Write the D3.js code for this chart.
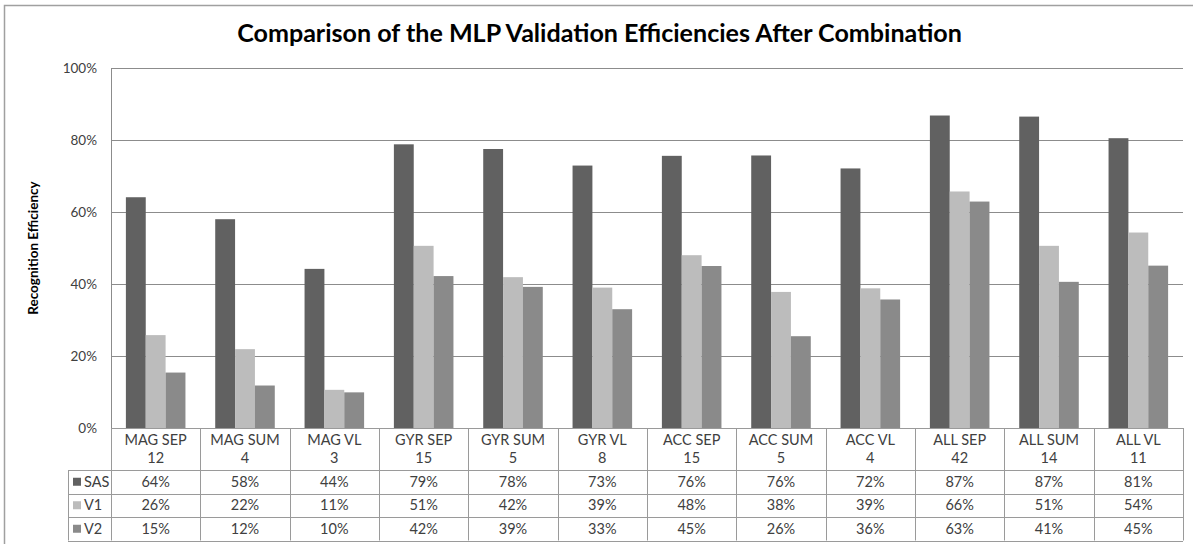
<!DOCTYPE html>
<html><head><meta charset="utf-8">
<script src="https://cdn.jsdelivr.net/npm/d3@7"></script>
<style>html,body{margin:0;padding:0;background:#fff;}svg{display:block;}</style>
</head><body>
<svg id="chart" width="1193" height="544"></svg>
<script>
const title = "Comparison of the MLP Validation Efficiencies After Combination";
const yTitle = "Recognition Efficiency";
const categories = ["MAG SEP","MAG SUM","MAG VL","GYR SEP","GYR SUM","GYR VL","ACC SEP","ACC SUM","ACC VL","ALL SEP","ALL SUM","ALL VL"];
const counts = ["12","4","3","15","5","8","15","5","4","42","14","11"];
const seriesNames = ["SAS","V1","V2"];
const sas = [64.1,58.0,44.2,78.8,77.5,72.9,75.6,75.7,72.1,86.8,86.5,80.5];
const v1  = [25.8,21.9,10.6,50.6,41.9,39.0,48.0,37.8,38.8,65.7,50.6,54.3];
const v2  = [15.4,11.8,9.9,42.2,39.2,33.0,45.0,25.5,35.7,62.9,40.6,45.1];
const yTicks = [0,20,40,60,80,100];
const seriesValues = [sas, v1, v2];
const colors = ["#616161","#bcbcbc","#8a8a8a"];

(function(){
const svg = d3.select("#chart");
const font = "Lato, 'Open Sans', sans-serif";
const pLeft = 111, pRight = 1183, pTop = 68, pBottom = 428;
const tableLeft = 68;
const rowBounds = [428, 470, 493.5, 517, 540.5];
const fs = 14.5;

svg.append("rect").attr("x",4.5).attr("y",5.5).attr("width",1200).attr("height",600)
  .attr("fill","none").attr("stroke","#a0a0a0").attr("stroke-width",1.5);

const t = svg.append("text").attr("x",(237+962)/2).attr("y",42).attr("text-anchor","middle")
  .attr("font-family",font).attr("font-weight","bold").attr("font-size",22).attr("fill","#000").text(title);
let w = t.node().getComputedTextLength();
t.attr("font-size", 22*725/w);

const x0 = d3.scaleBand().domain(categories).range([pLeft,pRight]).paddingInner(0).paddingOuter(0);
const bw = x0.bandwidth()/4.5;
const x1 = d3.scaleBand().domain(seriesNames).range([0.75*bw, 3.75*bw]);
const y = d3.scaleLinear().domain([0,100]).range([pBottom,pTop]);

svg.append("g").selectAll("line").data(yTicks.filter(d=>d>0)).join("line")
  .attr("x1",pLeft).attr("x2",pRight).attr("y1",d=>Math.round(y(d))+0.5).attr("y2",d=>Math.round(y(d))+0.5)
  .attr("stroke","#8c8c8c").attr("stroke-width",1);
svg.append("line").attr("x1",pLeft+0.5).attr("x2",pLeft+0.5).attr("y1",pTop).attr("y2",pBottom)
  .attr("stroke","#8c8c8c");

const yAxis = d3.axisLeft(y).tickValues(yTicks).tickFormat(d=>d+"%").tickSize(0).tickPadding(14);
const ga = svg.append("g").attr("transform",`translate(${pLeft},0)`).call(yAxis);
ga.select(".domain").remove();
ga.selectAll("text").attr("font-family",font).attr("font-size",13.5).attr("fill","#404040");

svg.append("text").attr("transform",`translate(38,${(pTop+pBottom)/2}) rotate(-90)`)
  .attr("text-anchor","middle").attr("font-family",font).attr("font-weight","bold")
  .attr("font-size",13.5).attr("fill","#000").text(yTitle);

seriesNames.forEach((s,si)=>{
  svg.append("g").selectAll("rect").data(seriesValues[si]).join("rect")
    .attr("x",(d,i)=>x0(categories[i])+x1(s))
    .attr("width",x1.bandwidth())
    .attr("y",d=>y(d)).attr("height",d=>pBottom-y(d))
    .attr("fill",colors[si]);
});

const tg = svg.append("g");
const lineColor = "#9a9a9a";
tg.append("line").attr("x1",pLeft).attr("x2",pRight).attr("y1",rowBounds[0]+0.5).attr("y2",rowBounds[0]+0.5).attr("stroke",lineColor);
rowBounds.slice(1).forEach(yb=>{
  tg.append("line").attr("x1",tableLeft).attr("x2",pRight).attr("y1",Math.round(yb)+0.5).attr("y2",Math.round(yb)+0.5).attr("stroke",lineColor);
});
tg.append("line").attr("x1",tableLeft+0.5).attr("x2",tableLeft+0.5).attr("y1",rowBounds[1]).attr("y2",rowBounds[4]).attr("stroke",lineColor);
categories.concat(["__end"]).forEach((c,i)=>{
  const xv = c==="__end" ? pRight : x0(c);
  tg.append("line").attr("x1",Math.round(xv)+0.5).attr("x2",Math.round(xv)+0.5).attr("y1",rowBounds[0]).attr("y2",rowBounds[4]).attr("stroke",lineColor);
});
categories.forEach((c,i)=>{
  const cx = x0(c)+x0.bandwidth()/2;
  tg.append("text").attr("x",cx).attr("y",445).attr("text-anchor","middle")
    .attr("font-family",font).attr("font-size",fs).attr("fill","#404040").text(c);
  tg.append("text").attr("x",cx).attr("y",463).attr("text-anchor","middle")
    .attr("font-family",font).attr("font-size",fs).attr("fill","#404040").text(counts[i]);
});
seriesNames.forEach((s,si)=>{
  const yc = (rowBounds[si+1]+rowBounds[si+2])/2;
  tg.append("rect").attr("x",73).attr("y",yc-4).attr("width",8).attr("height",8).attr("fill",colors[si]);
  tg.append("text").attr("x",84).attr("y",yc+5).attr("font-family",font).attr("font-size",fs)
    .attr("fill","#404040").text(s);
  seriesValues[si].forEach((v,i)=>{
    tg.append("text").attr("x",x0(categories[i])+x0.bandwidth()/2).attr("y",yc+5)
      .attr("text-anchor","middle").attr("font-family",font).attr("font-size",fs)
      .attr("fill","#404040").text(Math.round(v)+"%");
  });
});
})();
</script>
</body></html>
